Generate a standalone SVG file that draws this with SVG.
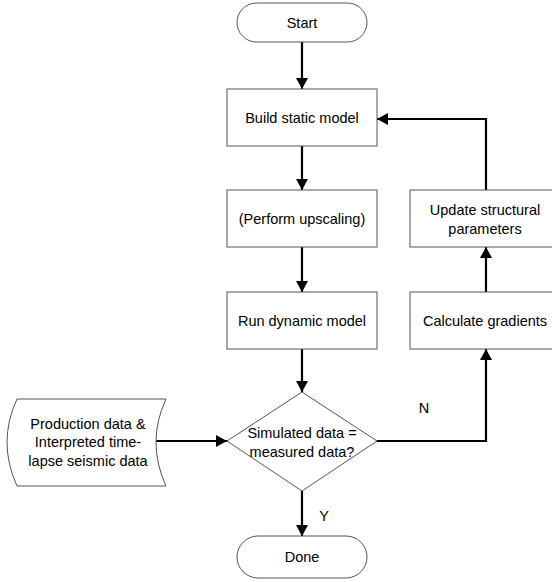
<svg xmlns="http://www.w3.org/2000/svg" width="552" height="582" viewBox="0 0 552 582">
  <style>
    .shape { fill: #ffffff; stroke: #555555; stroke-width: 1; }
    .lbl { font-family: "Liberation Sans", Arial, sans-serif; font-size: 14.5px; fill: #000000; text-anchor: middle; }
    .conn { fill: none; stroke: #000000; stroke-width: 2.2; }
  </style>
  <defs>
    <marker id="arrow" viewBox="0 0 11 12" refX="11" refY="6" markerWidth="11" markerHeight="12" markerUnits="userSpaceOnUse" orient="auto">
      <path d="M0,0 L11,6 L0,12 z" fill="#000000"/>
    </marker>
  </defs>
  <rect width="552" height="582" fill="#ffffff"/>

  <g id="connectors">
    <line class="conn" x1="302" y1="42" x2="302" y2="89" marker-end="url(#arrow)"/>
    <line class="conn" x1="302" y1="146" x2="302" y2="190" marker-end="url(#arrow)"/>
    <line class="conn" x1="302" y1="247" x2="302" y2="292" marker-end="url(#arrow)"/>
    <line class="conn" x1="302" y1="349" x2="302" y2="392" marker-end="url(#arrow)"/>
    <line class="conn" x1="302" y1="491" x2="302" y2="536" marker-end="url(#arrow)"/>
    <line class="conn" x1="156" y1="441" x2="227" y2="441" marker-end="url(#arrow)"/>
    <polyline class="conn" points="377,441 486,441 486,349" marker-end="url(#arrow)"/>
    <line class="conn" x1="486" y1="292" x2="486" y2="247" marker-end="url(#arrow)"/>
    <polyline class="conn" points="486,190 486,119 377,119" marker-end="url(#arrow)"/>
    <text class="lbl" x="424" y="413">N</text>
    <text class="lbl" x="324" y="521">Y</text>
  </g>

  <g id="start">
    <rect class="shape" x="237" y="3" width="130" height="39" rx="19.5" ry="19.5"/>
    <text class="lbl" x="302" y="28">Start</text>
  </g>

  <g id="build">
    <rect class="shape" x="227" y="89" width="150" height="57"/>
    <text class="lbl" x="302" y="123">Build static model</text>
  </g>

  <g id="upscale">
    <rect class="shape" x="227" y="190" width="150" height="57"/>
    <text class="lbl" x="302" y="224">(Perform upscaling)</text>
  </g>

  <g id="run">
    <rect class="shape" x="227" y="292" width="150" height="57"/>
    <text class="lbl" x="302" y="326">Run dynamic model</text>
  </g>

  <g id="update">
    <rect class="shape" x="410" y="190" width="150" height="57"/>
    <text class="lbl" x="485" y="215">Update structural</text>
    <text class="lbl" x="485" y="234">parameters</text>
  </g>

  <g id="gradients">
    <rect class="shape" x="410" y="292" width="150" height="57"/>
    <text class="lbl" x="485" y="326">Calculate gradients</text>
  </g>

  <g id="decision">
    <polygon class="shape" points="302,392 377,441 302,491 227,441"/>
    <text class="lbl" x="302" y="438">Simulated data =</text>
    <text class="lbl" x="302" y="457">measured data?</text>
  </g>

  <g id="data">
    <path class="shape" d="M17,399 L166,399 Q146,442 166,486 L17,486 Q-3,442 17,399 Z"/>
    <text class="lbl" x="88" y="429">Production data &amp;</text>
    <text class="lbl" x="88" y="447">Interpreted time-</text>
    <text class="lbl" x="88" y="466">lapse seismic data</text>
  </g>

  <g id="done">
    <rect class="shape" x="237" y="536" width="130" height="42" rx="21" ry="21"/>
    <text class="lbl" x="302" y="562">Done</text>
  </g>
</svg>
